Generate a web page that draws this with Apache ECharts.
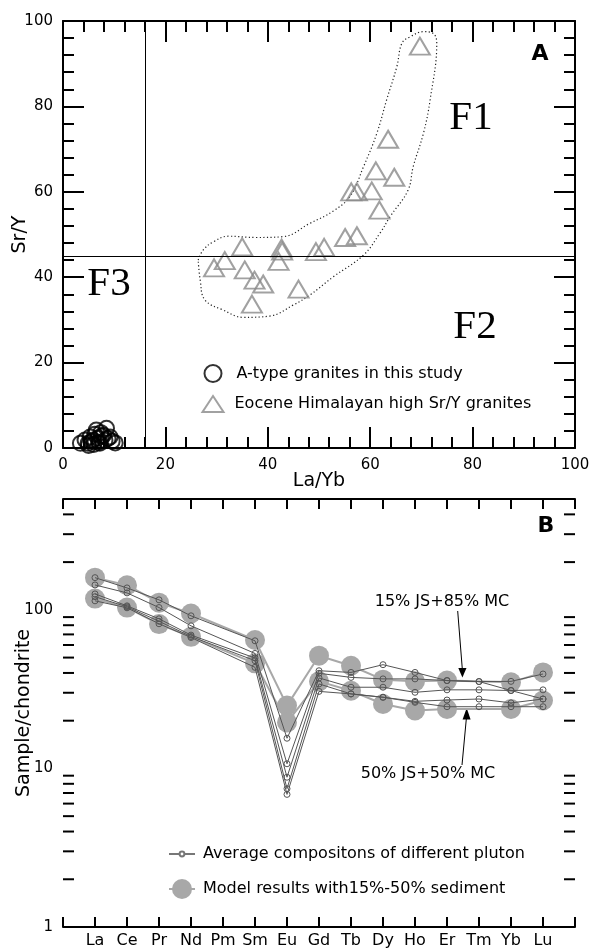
<!DOCTYPE html>
<html>
<head>
<meta charset="utf-8">
<script src="https://cdn.jsdelivr.net/npm/echarts@6/dist/echarts.min.js"></script>
<style>
  html, body { margin: 0; padding: 0; background: #fff; }
  #chart { width: 591px; height: 949px; }
</style>
</head>
<body>
<div id="chart"></div>
<script>
// Panel A: Sr/Y vs La/Yb
const aTypeLaYb = [3.4, 4.3, 4.9, 5.3, 5.6, 5.9, 6.2, 6.5, 6.8, 7.0, 7.2, 7.5, 7.9, 8.2, 8.5, 8.8, 9.2, 9.6, 10.2, 6.0, 7.4, 5.0];
const aTypeSrY  = [1.1, 1.9, 1.1, 2.6, 1.5, 1.9, 3.2, 4.2, 2.3, 1.3, 1.1, 2.8, 3.0, 1.8, 4.6, 2.2, 2.6, 1.6, 1.2, 0.8, 3.6, 0.6];
const eoceneLaYb = [69.7, 63.5, 61.1, 64.7, 56.3, 57.4, 60.3, 61.8, 55.1, 57.4, 49.4, 51.0, 46.0, 42.7, 42.8, 42.1, 35.0, 31.6, 29.5, 35.5, 37.4, 39.1, 36.9];
const eoceneSrY  = [94.1, 72.3, 64.9, 63.4, 60.0, 60.0, 60.2, 55.7, 49.3, 49.7, 46.0, 47.0, 37.2, 46.8, 46.1, 43.7, 47.1, 43.9, 42.2, 41.7, 39.3, 38.4, 33.7];
// dotted field around the Eocene granites
const fieldLaYb = [26.4, 27.4, 29.4, 32.3, 37.8, 43.0, 48.2, 52.8, 56.1, 58.7, 61.3, 63.2, 65.2, 66.2, 67.8, 70.4, 72.3, 73.0, 71.7, 70.4, 68.4, 67.4, 63.9, 61.9, 58.7, 52.8, 48.2, 45.0, 40.4, 35.2, 31.3, 27.7, 26.8, 26.4];
const fieldSrY  = [44.0, 46.4, 48.3, 49.6, 49.3, 49.5, 52.6, 55.5, 59.0, 65.9, 73.7, 81.5, 89.3, 94.8, 96.3, 97.5, 97.1, 94.8, 81.5, 73.7, 65.9, 60.4, 54.2, 50.3, 45.2, 40.1, 35.8, 33.5, 30.9, 30.6, 32.3, 34.7, 39.3, 44.0];
const laYbDivide = 16;
const srYDivide = 45;

// Panel B: chondrite-normalised REE
const ree = ['La', 'Ce', 'Pr', 'Nd', 'Pm', 'Sm', 'Eu', 'Gd', 'Tb', 'Dy', 'Ho', 'Er', 'Tm', 'Yb', 'Lu'];
const pluton1 = [159.6, 137.5, 115.6, 91.7, null, 63.8, 15.5, 41.3, 40.3, 45.1, 40.3, 35.8, 35.3, 31.0, 27.4];
const pluton2 = [143.5, 127.9, 103.4, 79.3, null, 53.1, 10.7, 39.8, 37.5, 36.7, 36.7, 35.8, 35.3, 35.4, 39.4];
const pluton3 = [126.0, 106.0, 87.8, 69.3, null, 49.7, 8.8, 37.2, 32.5, 32.5, 30.2, 31.3, 31.3, 31.0, 31.3];
const pluton4 = [121.0, 104.5, 84.7, 67.9, null, 47.8, 7.45, 34.1, 29.5, 28.1, 26.5, 27.0, 27.4, 25.9, 27.4];
const pluton5 = [114.0, 103.0, 81.7, 66.9, null, 43.4, 6.86, 30.6, 29.5, 28.1, 26.1, 24.5, 24.5, 24.5, 24.5];
const model15 = [159.6, 143.0, 111.0, 94.8, null, 64.5, 24.9, 51.4, 44.4, 36.3, 35.4, 35.8, null, 34.9, 40.3];
const model50 = [117.8, 103.3, 81.3, 67.6, null, 46.0, 19.5, 35.4, 30.9, 25.5, 23.2, 23.7, null, 23.7, 26.8];
const logMinorTicks = [2, 3, 4, 5, 6, 7, 8, 9, 20, 30, 40, 50, 60, 70, 80, 90, 200, 300, 400];

const FONT = 'DejaVu Sans';
const AVG_NAME = 'Average compositons of different pluton';
const MODEL_NAME = 'Model results with15%-50% sediment';
const reeCats = [''].concat(ree, [' ']);

const chart = echarts.init(document.getElementById('chart'));

const frame = { onZero: false, lineStyle: { color: '#000', width: 2 } };
const tickStyle = { color: '#000', width: 2 };
const labelStyle = { color: '#000', fontSize: 15, fontFamily: FONT };
const nameStyle = { color: '#000', fontSize: 19, fontFamily: FONT };

function pairs(xs, ys) {
  return xs.map((x, i) => [x, ys[i]]);
}
function reeData(vals) {
  return vals.map((v, i) => [ree[i], v]).filter(d => d[1] != null);
}

function linearAxis(extra) {
  return Object.assign({
    type: 'value', min: 0, max: 100, interval: 20,
    axisLine: frame,
    axisTick: { inside: true, length: 21, lineStyle: tickStyle },
    minorTick: { show: true, splitNumber: 5, length: 11, lineStyle: tickStyle },
    splitLine: { show: false },
    nameMoveOverlap: false,
    axisLabel: Object.assign({ margin: 10 }, labelStyle)
  }, extra);
}
function logAxis(extra) {
  return Object.assign({
    type: 'log', logBase: 10, min: 1, max: 500, gridIndex: 1,
    axisLine: frame,
    axisTick: { inside: true, length: 21, lineStyle: tickStyle },
    splitLine: { show: false },
    nameMoveOverlap: false,
    axisLabel: Object.assign({
      margin: 10,
      formatter: v => {
        const l = Math.log10(v);
        return Math.abs(l - Math.round(l)) < 1e-6 ? String(Math.round(v)) : '';
      }
    }, labelStyle)
  }, extra);
}
function reeAxis(extra) {
  return Object.assign({
    type: 'category', data: reeCats, boundaryGap: false, gridIndex: 1,
    axisLine: frame,
    axisTick: { inside: true, length: 10, interval: 0, lineStyle: tickStyle },
    splitLine: { show: false },
    axisLabel: Object.assign({ interval: 0, margin: 6 }, labelStyle, { fontSize: 16 })
  }, extra);
}

const plutonSeries = [pluton1, pluton2, pluton3, pluton4, pluton5].map(p => ({
  name: AVG_NAME, type: 'line', xAxisIndex: 2, yAxisIndex: 2, z: 4,
  data: reeData(p),
  symbol: 'circle', symbolSize: 6,
  itemStyle: { color: 'rgba(0,0,0,0)', borderColor: '#555', borderWidth: 1 },
  lineStyle: { color: '#555', width: 1 }
}));
const modelSeries = [model15, model50].map(m => ({
  name: MODEL_NAME, type: 'line', xAxisIndex: 2, yAxisIndex: 2, z: 3,
  data: reeData(m),
  symbol: 'circle', symbolSize: 20,
  itemStyle: { color: '#a8a8a8' },
  lineStyle: { color: '#a8a8a8', width: 2 }
}));

const option = {
  animation: false,
  backgroundColor: '#fff',
  textStyle: { fontFamily: FONT },
  grid: [
    { left: 63, top: 21, width: 512, height: 427, outerBoundsMode: 'none' },
    { left: 63, top: 499, width: 512, height: 428, outerBoundsMode: 'none' }
  ],
  xAxis: [
    linearAxis({ gridIndex: 0, position: 'bottom', name: 'La/Yb', nameLocation: 'middle', nameGap: 24, nameTextStyle: nameStyle }),
    linearAxis({ gridIndex: 0, position: 'top', axisLabel: { show: false } }),
    reeAxis({ position: 'bottom' }),
    reeAxis({ position: 'top', axisLabel: { show: false } })
  ],
  yAxis: [
    linearAxis({ gridIndex: 0, position: 'left', name: 'Sr/Y', nameLocation: 'middle', nameGap: 33, nameTextStyle: nameStyle }),
    linearAxis({ gridIndex: 0, position: 'right', axisLabel: { show: false } }),
    logAxis({ position: 'left', name: 'Sample/chondrite', nameLocation: 'middle', nameGap: 29, nameTextStyle: nameStyle }),
    logAxis({ position: 'right', axisLabel: { show: false } })
  ],
  legend: [
    {
      data: ['A-type granites in this study'], left: 203.5, top: 364, padding: 0,
      itemWidth: 17, itemHeight: 17, selectedMode: false,
      textStyle: { fontSize: 16, fontFamily: FONT, color: '#000', padding: [0, 0, 0, 10] }
    },
    {
      data: ['Eocene Himalayan high Sr/Y granites'], left: 201.5, top: 395, padding: 0,
      itemWidth: 21, itemHeight: 16, symbolKeepAspect: false, selectedMode: false,
      textStyle: { fontSize: 16, fontFamily: FONT, color: '#000', padding: [0, 0, 0, 6] }
    },
    {
      data: [AVG_NAME], left: 168, top: 846, padding: 0,
      itemWidth: 26, itemHeight: 6, selectedMode: false,
      itemStyle: { color: '#fff', borderColor: '#777' }, lineStyle: { color: '#777', width: 2 },
      textStyle: { fontSize: 16, fontFamily: FONT, color: '#000', padding: [0, 0, 0, 3] }
    },
    {
      data: [MODEL_NAME], left: 168, top: 879, padding: 0,
      itemWidth: 26, itemHeight: 25, selectedMode: false,
      textStyle: { fontSize: 16, fontFamily: FONT, color: '#000', padding: [0, 0, 0, 3] }
    }
  ],
  series: [
    {
      name: 'field', type: 'line', xAxisIndex: 0, yAxisIndex: 0, z: 1,
      data: pairs(fieldLaYb, fieldSrY), smooth: 0.4, symbol: 'none', silent: true,
      lineStyle: { color: '#222', width: 1.2, type: [1.2, 2.4] },
      markLine: {
        silent: true, symbol: 'none', label: { show: false },
        lineStyle: { color: '#000', width: 1, type: 'solid' },
        data: [{ xAxis: laYbDivide }, { yAxis: srYDivide }]
      }
    },
    {
      name: 'Eocene Himalayan high Sr/Y granites', type: 'scatter', xAxisIndex: 0, yAxisIndex: 0, z: 3,
      data: pairs(eoceneLaYb, eoceneSrY), symbol: 'triangle', symbolSize: [20, 17],
      itemStyle: { color: 'rgba(0,0,0,0)', borderColor: '#8a8a8a', borderWidth: 2 }
    },
    {
      name: 'A-type granites in this study', type: 'scatter', xAxisIndex: 0, yAxisIndex: 0, z: 4,
      data: pairs(aTypeLaYb, aTypeSrY), symbol: 'circle', symbolSize: 15,
      itemStyle: { color: 'rgba(0,0,0,0)', borderColor: '#000', borderWidth: 2 }
    },
    ...modelSeries,
    ...plutonSeries,
    {
      type: 'custom', xAxisIndex: 2, yAxisIndex: 2, silent: true, z: 5, clip: false,
      data: logMinorTicks.map(v => [0, v]),
      renderItem: (params, api) => {
        const y = api.coord([0, api.value(1)])[1];
        const cs = params.coordSys;
        return {
          type: 'group',
          children: [
            { type: 'line', shape: { x1: cs.x, y1: y, x2: cs.x + 11, y2: y }, style: { stroke: '#000', lineWidth: 2 } },
            { type: 'line', shape: { x1: cs.x + cs.width - 11, y1: y, x2: cs.x + cs.width, y2: y }, style: { stroke: '#000', lineWidth: 2 } }
          ]
        };
      }
    }
  ],
  graphic: [
    { type: 'text', x: 471, y: 118, style: { text: 'F1', font: '41px "Liberation Serif"', fill: '#000', align: 'center', verticalAlign: 'middle' } },
    { type: 'text', x: 475, y: 327, style: { text: 'F2', font: '41px "Liberation Serif"', fill: '#000', align: 'center', verticalAlign: 'middle' } },
    { type: 'text', x: 109, y: 284, style: { text: 'F3', font: '41px "Liberation Serif"', fill: '#000', align: 'center', verticalAlign: 'middle' } },
    { type: 'text', x: 540, y: 54, style: { text: 'A', font: 'bold 22px "DejaVu Sans"', fill: '#000', align: 'center', verticalAlign: 'middle' } },
    { type: 'text', x: 546, y: 526, style: { text: 'B', font: 'bold 22px "DejaVu Sans"', fill: '#000', align: 'center', verticalAlign: 'middle' } },
    { type: 'text', x: 442, y: 602, style: { text: '15% JS+85% MC', font: '16px "DejaVu Sans"', fill: '#000', align: 'center', verticalAlign: 'middle' } },
    { type: 'text', x: 428, y: 774, style: { text: '50% JS+50% MC', font: '16px "DejaVu Sans"', fill: '#000', align: 'center', verticalAlign: 'middle' } },
    { type: 'line', shape: { x1: 457.7, y1: 611, x2: 462.3, y2: 669 }, style: { stroke: '#000', lineWidth: 1 } },
    { type: 'polygon', shape: { points: [[458.3, 668], [466.5, 668], [462.4, 677.5]] }, style: { fill: '#000' } },
    { type: 'line', shape: { x1: 462, y1: 765, x2: 466.4, y2: 718 }, style: { stroke: '#000', lineWidth: 1 } },
    { type: 'polygon', shape: { points: [[462.6, 719.5], [470.6, 719.5], [466.7, 708]] }, style: { fill: '#000' } }
  ]
};

chart.setOption(option);
</script>
</body>
</html>
